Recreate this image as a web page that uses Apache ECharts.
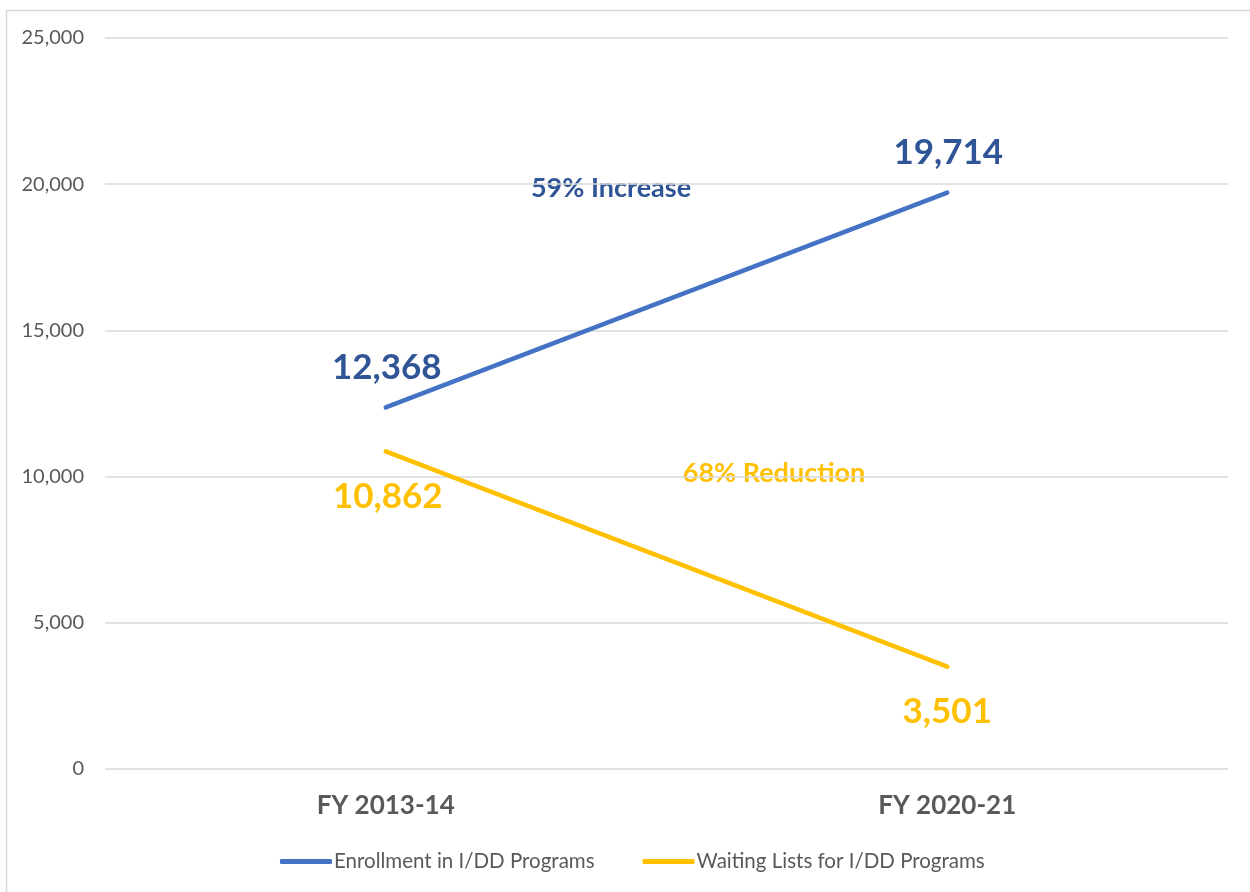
<!DOCTYPE html>
<html><head><meta charset="utf-8">
<script src="https://cdn.jsdelivr.net/npm/echarts@6/dist/echarts.min.js"></script>
<style>html,body{margin:0;padding:0;background:#fff}#c{width:1250px;height:892px}</style>
</head><body><div id="c"></div>
<script>
const categories = ['FY 2013-14', 'FY 2020-21'];
const enrollment = [12368, 19714];
const waiting = [10862, 3501];
const yTicks = [0, 5000, 10000, 15000, 20000, 25000];
const seriesNames = ['Enrollment in I/DD Programs', 'Waiting Lists for I/DD Programs'];
const annotations = ['59% Increase', '68% Reduction'];

const FONT = 'Lato, "Open Sans", sans-serif';
const fmt = v => v.toLocaleString('en-US');
const chart = echarts.init(document.getElementById('c'));
chart.setOption({
  backgroundColor: '#fff',
  animation: false,
  grid: { left: 105, right: 22, top: 38, bottom: 123 },
  graphic: [
    { type: 'rect', shape: { x: 6.5, y: 10.5, width: 1300, height: 1000 }, style: { fill: 'none', stroke: '#D9D9D9', lineWidth: 1.5 }, silent: true },
    { type: 'text', x: 611, y: 188, style: { text: annotations[0], font: 'bold 27px ' + FONT, fill: '#2F5597', align: 'center', verticalAlign: 'middle' } },
    { type: 'text', x: 774, y: 473, style: { text: annotations[1], font: 'bold 27px ' + FONT, fill: '#FFC000', align: 'center', verticalAlign: 'middle' } }
  ],
  legend: {
    top: 851, left: 280, padding: 0, itemWidth: 52, itemHeight: 5, itemGap: 48,
    icon: 'roundRect',
    textStyle: { color: '#595959', fontSize: 20.5, fontFamily: FONT, padding: [0, 0, 0, -3] },
    data: seriesNames
  },
  xAxis: {
    type: 'category', data: categories, boundaryGap: true,
    axisLine: { show: false }, axisTick: { show: false },
    axisLabel: { margin: 24, color: '#595959', fontSize: 26, fontWeight: 'bold', fontFamily: FONT }
  },
  yAxis: {
    type: 'value', min: yTicks[0], max: yTicks[yTicks.length - 1], interval: 5000,
    axisLine: { show: false }, axisTick: { show: false },
    splitLine: { lineStyle: { color: '#D9D9D9', width: 1.5 } },
    axisLabel: { margin: 21, color: '#595959', fontSize: 20, fontFamily: FONT, formatter: v => fmt(v) }
  },
  series: [
    {
      name: seriesNames[0], type: 'line',
      symbol: 'circle', symbolSize: 1, showSymbol: true,
      lineStyle: { color: '#4472C4', width: 4.5, cap: 'round' },
      itemStyle: { color: '#4472C4' },
      label: { show: true, position: 'top', distance: 22, formatter: p => fmt(p.value), color: '#2F5597', fontSize: 35, fontWeight: 'bold', fontFamily: FONT },
      data: enrollment.map((v, i) => ({ value: v, label: { offset: [1, 0] } }))
    },
    {
      name: seriesNames[1], type: 'line',
      symbol: 'circle', symbolSize: 1, showSymbol: true,
      lineStyle: { color: '#FFC000', width: 4.5, cap: 'round' },
      itemStyle: { color: '#FFC000' },
      label: { show: true, position: 'bottom', distance: 27, formatter: p => fmt(p.value), color: '#FFC000', fontSize: 35, fontWeight: 'bold', fontFamily: FONT },
      data: waiting.map((v, i) => ({ value: v, label: { offset: [i === 0 ? 2 : 0, 0] } }))
    }
  ]
});
</script></body></html>
